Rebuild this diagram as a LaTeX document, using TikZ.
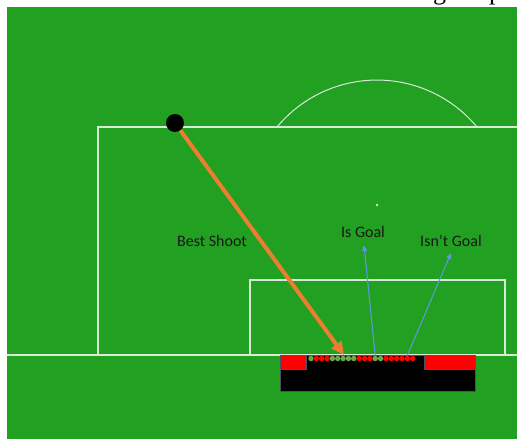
\documentclass[tikz,border=0pt]{standalone}
\usepackage{fontspec}
\setmainfont{Carlito}
\newfontfamily\capfont{Liberation Serif}
\usetikzlibrary{arrows.meta}
\definecolor{pitch}{RGB}{33,160,33}
\definecolor{lineW}{RGB}{215,235,215}
\definecolor{shootC}{RGB}{237,125,49}
\definecolor{probeC}{RGB}{91,155,213}
\definecolor{hitC}{RGB}{106,168,79}
\definecolor{goalEdge}{RGB}{70,85,100}
\begin{document}
\begin{tikzpicture}[x=1pt,y=-1pt,
  fieldline/.style={draw=lineW,line width=1.2pt},
  lbl/.style={font=\fontsize{16}{18}\selectfont,text=black!90,inner sep=0pt},
  shoot/.style={draw=shootC,line width=4pt,-{Triangle[length=13pt,width=12pt]}},
  probe/.style={draw=probeC,line width=1.1pt,-{Triangle[length=6pt,width=5pt]}},
  shotdot/.style={circle,inner sep=0pt,minimum size=5.5pt},
  capfrag/.style={font=\capfont\fontsize{26}{28}\selectfont,inner sep=0pt,anchor=base west}]
\useasboundingbox (0,0) rectangle (517,439);
% cut-off caption fragments above the picture
\node[capfrag] (capg) at (433,-1) {g};
\node[capfrag] (capp) at (489,-1) {p};
% pitch
\fill[pitch] (7,7) rectangle (517,439);
% field lines
\draw[fieldline,line width=1.7pt] (7,355) -- (517,355);
\draw[fieldline] (98,355) -- (98,127) -- (517,127);
\draw[fieldline] (250,355) -- (250,280) -- (505,280) -- (505,355);
\draw[fieldline,line width=1pt] (477,127) arc[start angle=-39.7,end angle=-140.3,radius=130];
\fill[lineW] (377,205) circle (1.3);
% goal
\node[draw=goalEdge,fill=black,line width=0.6pt,minimum width=195pt,minimum height=36pt,inner sep=0pt,anchor=north west] (goal) at (280,355) {};
\node[draw=goalEdge,fill=red,line width=0.5pt,minimum width=26pt,minimum height=14pt,inner sep=0pt,anchor=north west] (postL) at (280,355) {};
\node[draw=goalEdge,fill=red,line width=0.5pt,minimum width=51pt,minimum height=14pt,inner sep=0pt,anchor=north west] (postR) at (424,355) {};
% shot dots
\foreach \c [count=\i from 0] in {hitC,red,red,red,hitC,hitC,hitC,hitC,hitC,red,red,red,hitC,hitC,red,red,red,red,red,red}
  \node[shotdot,fill=\c] (d\i) at ({311+5.35*\i},358.5) {};
% ball
\node[circle,fill=black,minimum size=18pt,inner sep=0pt] (ball) at (175,123) {};
% arrows
\coordinate (tipA) at (344,355);
\coordinate (tipB) at (364,245);
\coordinate (tipC) at (451,253);
\draw[shoot] (ball) -- (tipA);
\draw[probe] (d12.north) -- (tipB);
\draw[probe] (d18.north) -- (tipC);
% labels
\node[lbl] (best) at (212,241) {Best Shoot};
\node[lbl] (isgoal) at (363,232) {Is Goal};
\node[lbl] (isnt) at (451,241) {Isn\symbol{39}t Goal};
\end{tikzpicture}
\end{document}
